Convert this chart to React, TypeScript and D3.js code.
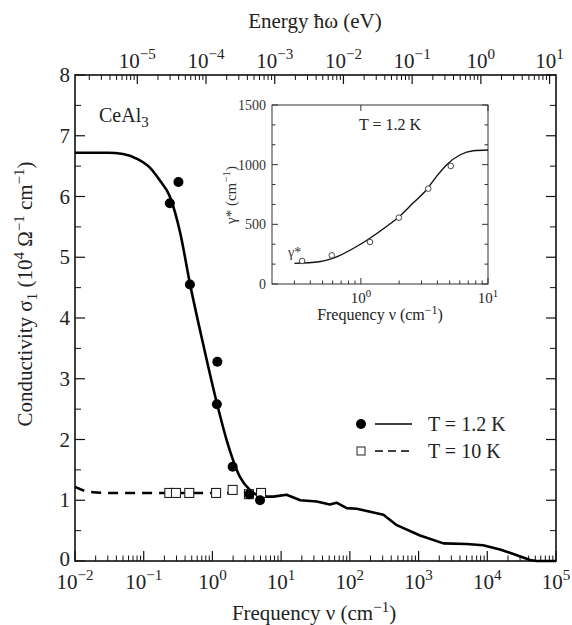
import React from 'react';
import * as d3 from 'd3';

// T = 1.2 K fit (Drude-like narrow mode)
const fitNu = [0.01, 0.03, 0.05, 0.08, 0.124, 0.17, 0.24, 0.34, 0.47, 0.74, 1.16, 1.61, 2.5, 3.5, 4.9];
const fitSigma = [6.72, 6.72, 6.7, 6.62, 6.47, 6.27, 6.0, 5.4, 4.57, 3.55, 2.6, 1.99, 1.39, 1.17, 1.06];

// broadband measured spectrum
const hiNu = [4.9, 7.7, 12, 19, 33, 51, 64, 90, 126, 197, 308, 482, 1050, 2300, 5000, 8700, 15300, 24000, 42000, 52000, 100000];
const hiSigma = [1.06, 1.06, 1.09, 1.0, 0.98, 0.93, 0.96, 0.87, 0.86, 0.81, 0.76, 0.59, 0.42, 0.29, 0.28, 0.26, 0.19, 0.115, 0.016, 0, 0];

// T = 10 K dashed curve
const warmNu = [0.01, 0.016, 0.03, 0.1, 0.3, 1, 2, 3.5];
const warmSigma = [1.22, 1.14, 1.12, 1.12, 1.12, 1.12, 1.12, 1.11];

// data points
const coldPtNu = [0.24, 0.32, 0.47, 1.18, 1.16, 1.97, 3.44, 4.93];
const coldPtSigma = [5.89, 6.24, 4.55, 3.28, 2.58, 1.55, 1.1, 1.0];
const warmPtNu = [0.236, 0.295, 0.46, 1.13, 1.97, 3.4, 5.1];
const warmPtSigma = [1.12, 1.12, 1.12, 1.12, 1.17, 1.1, 1.12];

// inset: gamma*
const insetNu = [0.3, 0.47, 0.6, 1.0, 1.58, 2.0, 2.56, 3.27, 3.93, 4.71, 6.0, 7.65, 10];
const insetGamma = [173, 187, 215, 335, 480, 564, 676, 788, 900, 998, 1081, 1117, 1123];
const insetPtNu = [0.345, 0.59, 1.18, 1.99, 3.39, 5.09];
const insetPtGamma = [193, 240, 352, 556, 799, 989];

const yTicks = [0, 1, 2, 3, 4, 5, 6, 7, 8];
const xDecades = [-2, -1, 0, 1, 2, 3, 4, 5];
const eVDecades = [-5, -4, -3, -2, -1, 0, 1];
const insetYTicks = [0, 500, 1000, 1500];

const EV_PER_CM = 1.23984e-4;
const FONT = '"Liberation Serif", "Times New Roman", serif';
const MINUS = '\u2212';

const x = d3.scaleLog().domain([1e-2, 1e5]).range([75, 556]);
const y = d3.scaleLinear().domain([0, 8]).range([561, 75]);

const ix = d3.scaleLog().domain([0.2, 10]).range([272, 488]);
const iy = d3.scaleLinear().domain([0, 1500]).range([284, 105]);

const expLabel = (e: number) => (e < 0 ? MINUS + Math.abs(e) : String(e));

function Pow({ px, py, e, size }: { px: number; py: number; e: number; size: number }) {
  return (
    <text x={px} y={py} fontSize={size} textAnchor="middle" fontFamily={FONT} fill="#222">
      10
      <tspan dy={-size * 0.42} fontSize={size * 0.72}>{expLabel(e)}</tspan>
    </text>
  );
}

export default function App() {
  const line = d3.line<[number, number]>()
    .x(d => x(d[0]))
    .y(d => y(d[1]))
    .curve(d3.curveMonotoneX);
  const lineLin = d3.line<[number, number]>()
    .x(d => x(d[0]))
    .y(d => y(d[1]));
  const insetLine = d3.line<[number, number]>()
    .x(d => ix(d[0]))
    .y(d => iy(d[1]))
    .curve(d3.curveMonotoneX);

  const fitPts = fitNu.map((v, i) => [v, fitSigma[i]] as [number, number]);
  const hiPts = hiNu.map((v, i) => [v, hiSigma[i]] as [number, number]);
  const warmPts = warmNu.map((v, i) => [v, warmSigma[i]] as [number, number]);
  const insetPts = insetNu.map((v, i) => [v, insetGamma[i]] as [number, number]);

  // bottom minor ticks
  const minorX: number[] = [];
  xDecades.slice(0, -1).forEach(e => {
    for (let k = 2; k <= 9; k++) minorX.push(k * Math.pow(10, e));
  });
  // top axis ticks in eV
  const minorE: number[] = [];
  for (let e = -6; e <= 0; e++) {
    for (let k = 2; k <= 9; k++) {
      const cm = (k * Math.pow(10, e)) / EV_PER_CM;
      if (cm >= 1e-2 && cm <= 1e5) minorE.push(cm);
    }
  }
  const minorY = d3.range(0.5, 8, 1);

  const insetMinorX = [0.3, 0.4, 0.5, 0.6, 0.7, 0.8, 0.9, 2, 3, 4, 5, 6, 7, 8, 9];
  const insetMinorY = d3.range(0, 1500, 500 / 3).filter(v => v % 500 > 1 && v % 500 < 499);

  const [x0, x1] = x.range();
  const [y0, y1] = y.range();

  return (
    <div style={{ position: 'absolute', left: 0, top: 0 }}>
      <svg width={572} height={625} style={{ display: 'block', background: '#fff' }} fontFamily={FONT}>
        <g stroke="#111" fill="none">
          {/* frame */}
          <rect x={x0} y={y1} width={x1 - x0} height={y0 - y1} strokeWidth={1.6} />
          {/* bottom ticks */}
          {xDecades.map(e => (
            <line key={'bx' + e} x1={x(Math.pow(10, e))} x2={x(Math.pow(10, e))} y1={y0} y2={y0 - 10} strokeWidth={1.2} />
          ))}
          {minorX.map((v, i) => (
            <line key={'bm' + i} x1={x(v)} x2={x(v)} y1={y0} y2={y0 - 5.5} strokeWidth={1} />
          ))}
          {/* top ticks */}
          {eVDecades.map(e => {
            const cm = Math.pow(10, e) / EV_PER_CM;
            return <line key={'tx' + e} x1={x(cm)} x2={x(cm)} y1={y1} y2={y1 + 9} strokeWidth={1.2} />;
          })}
          {minorE.map((v, i) => (
            <line key={'tm' + i} x1={x(v)} x2={x(v)} y1={y1} y2={y1 + 5} strokeWidth={1} />
          ))}
          {/* left / right ticks */}
          {yTicks.map(t => (
            <g key={'yt' + t}>
              <line x1={x0} x2={x0 + 10} y1={y(t)} y2={y(t)} strokeWidth={1.2} />
              <line x1={x1} x2={x1 - 10} y1={y(t)} y2={y(t)} strokeWidth={1.2} />
            </g>
          ))}
          {minorY.map(t => (
            <g key={'ym' + t}>
              <line x1={x0} x2={x0 + 6} y1={y(t)} y2={y(t)} strokeWidth={1} />
              <line x1={x1} x2={x1 - 6} y1={y(t)} y2={y(t)} strokeWidth={1} />
            </g>
          ))}
        </g>

        {/* curves */}
        <path d={lineLin(hiPts) || ''} fill="none" stroke="#000" strokeWidth={2.6} strokeLinejoin="round" />
        <path d={line(fitPts) || ''} fill="none" stroke="#000" strokeWidth={2.6} />
        <path d={line(warmPts) || ''} fill="none" stroke="#000" strokeWidth={2.6} strokeDasharray="10 7" />

        {/* points */}
        {warmPtNu.map((v, i) => (
          <rect key={'wp' + i} x={x(v) - 4.5} y={y(warmPtSigma[i]) - 4.5} width={9} height={9}
            fill="#fff" stroke="#222" strokeWidth={1.1} />
        ))}
        {coldPtNu.map((v, i) => (
          <circle key={'cp' + i} cx={x(v)} cy={y(coldPtSigma[i])} r={5} fill="#000" />
        ))}

        {/* tick labels */}
        {yTicks.map(t => (
          <text key={'yl' + t} x={70} y={y(t) + (t === 0 ? 5 : 7)} fontSize={21} textAnchor="end" fill="#222">{t}</text>
        ))}
        {xDecades.map(e => (
          <Pow key={'xl' + e} px={x(Math.pow(10, e))} py={589} e={e} size={21} />
        ))}
        {eVDecades.map(e => (
          <Pow key={'el' + e} px={x(Math.pow(10, e) / EV_PER_CM)} py={68} e={e} size={21} />
        ))}

        {/* axis titles */}
        <text x={315} y={28} fontSize={21} textAnchor="middle" fill="#222">Energy ħω (eV)</text>
        <text x={314} y={620} fontSize={21} textAnchor="middle" fill="#222">
          Frequency ν (cm<tspan dy={-8} fontSize={15}>{MINUS}1</tspan><tspan dy={8}>)</tspan>
        </text>
        <text transform="translate(32,294) rotate(-90)" fontSize={21} textAnchor="middle" fill="#222">
          Conductivity σ<tspan dy={5} fontSize={15}>1</tspan>
          <tspan dy={-5}> (10</tspan><tspan dy={-8} fontSize={15}>4</tspan>
          <tspan dy={8}> Ω</tspan><tspan dy={-8} fontSize={15}>{MINUS}1</tspan>
          <tspan dy={8}> cm</tspan><tspan dy={-8} fontSize={15}>{MINUS}1</tspan>
          <tspan dy={8}>)</tspan>
        </text>
        <text x={99} y={122} fontSize={20} fill="#222">
          CeAl<tspan dy={5} fontSize={15}>3</tspan>
        </text>

        {/* legend */}
        <circle cx={361} cy={424} r={5} fill="#000" />
        <line x1={375} x2={412} y1={424} y2={424} stroke="#000" strokeWidth={1.6} />
        <text x={428} y={431} fontSize={20} fill="#222">T = 1.2 K</text>
        <rect x={357} y={447} width={8} height={8} fill="#fff" stroke="#222" strokeWidth={1} />
        <line x1={375} x2={412} y1={451} y2={451} stroke="#000" strokeWidth={1.6} strokeDasharray="8 5" />
        <text x={428} y={458} fontSize={20} fill="#222">T = 10 K</text>

        {/* inset */}
        <g stroke="#333" fill="none" strokeWidth={1}>
          <rect x={ix.range()[0]} y={iy.range()[1]} width={ix.range()[1] - ix.range()[0]} height={iy.range()[0] - iy.range()[1]} />
          {[1, 10].map(v => (
            <g key={'ixt' + v}>
              <line x1={ix(v)} x2={ix(v)} y1={284} y2={278} />
              <line x1={ix(v)} x2={ix(v)} y1={105} y2={111} />
            </g>
          ))}
          {insetMinorX.map(v => (
            <line key={'ixm' + v} x1={ix(v)} x2={ix(v)} y1={284} y2={280.5} />
          ))}
          {insetYTicks.map(t => (
            <g key={'iyt' + t}>
              <line x1={272} x2={278} y1={iy(t)} y2={iy(t)} />
              <line x1={488} x2={482} y1={iy(t)} y2={iy(t)} />
            </g>
          ))}
          {insetMinorY.map(t => (
            <g key={'iym' + t}>
              <line x1={272} x2={275.5} y1={iy(t)} y2={iy(t)} />
              <line x1={488} x2={484.5} y1={iy(t)} y2={iy(t)} />
            </g>
          ))}
        </g>
        <path d={insetLine(insetPts) || ''} fill="none" stroke="#111" strokeWidth={1.4} />
        {insetPtNu.map((v, i) => (
          <circle key={'ip' + i} cx={ix(v)} cy={iy(insetPtGamma[i])} r={2.8} fill="#fff" stroke="#333" strokeWidth={0.9} />
        ))}
        {insetYTicks.map(t => (
          <text key={'iyl' + t} x={266} y={iy(t) + 5} fontSize={14} textAnchor="end" fill="#333">{t}</text>
        ))}
        {[0, 1].map(e => (
          <Pow key={'ixl' + e} px={ix(Math.pow(10, e))} py={303} e={e} size={15} />
        ))}
        <text x={390} y={130} fontSize={16} textAnchor="middle" fill="#222">T = 1.2 K</text>
        <text x={288} y={257} fontSize={14} fill="#333">γ*</text>
        <text transform="translate(236,195) rotate(-90)" fontSize={15} textAnchor="middle" fill="#333">
          γ* (cm<tspan dy={-6} fontSize={11}>{MINUS}1</tspan><tspan dy={6}>)</tspan>
        </text>
        <text x={380} y={320} fontSize={16} textAnchor="middle" fill="#222">
          Frequency ν (cm<tspan dy={-6} fontSize={12}>{MINUS}1</tspan><tspan dy={6}>)</tspan>
        </text>
      </svg>
    </div>
  );
}
